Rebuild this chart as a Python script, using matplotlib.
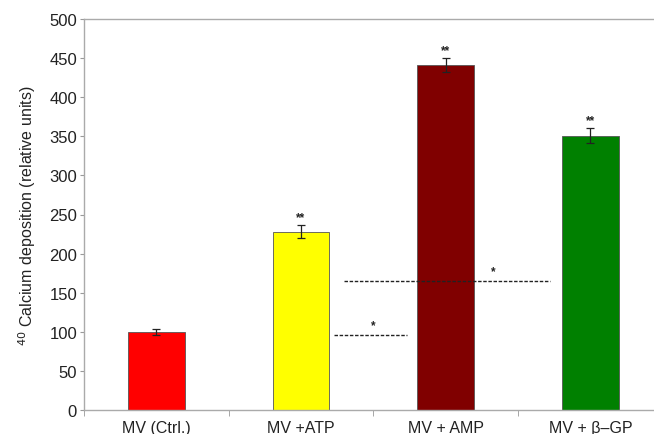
import matplotlib
matplotlib.use("Agg")
import matplotlib.pyplot as plt
import numpy as np

plt.rcParams['font.family'] = ['Liberation Sans', 'DejaVu Sans']

categories = ["MV (Ctrl.)", "MV +ATP", "MV + AMP", "MV + β–GP"]
values = [100, 228, 441, 351]
errors = [4, 8, 9, 9]
colors = ["#ff0000", "#ffff00", "#800000", "#008000"]
marks = ["", "**", "**", "**"]
yticks = [0, 50, 100, 150, 200, 250, 300, 350, 400, 450, 500]

fig = plt.figure(figsize=(6.54, 4.35), dpi=100)
ax = fig.add_axes([84/654, 1 - 411/435, 1 - 84/654, (411 - 20)/435])

x = np.arange(len(categories))
ax.bar(x, values, width=0.39, color=colors, edgecolor="#555555", linewidth=0.6, zorder=2)
ax.errorbar(x, values, yerr=errors, fmt="none", ecolor="#222222", elinewidth=0.9,
            capsize=3, capthick=0.9, zorder=3)
for xi, v, e, m in zip(x, values, errors, marks):
    if m:
        ax.text(xi, v + e + 3, m, ha="center", va="bottom", fontsize=8.5, fontweight="bold", color="#222222")

# significance lines
ax.plot([1.30, 2.72], [165, 165], ls=(0, (2.5, 1.2)), color="#222222", lw=1.0, zorder=4)
ax.text(2.33, 170, "*", ha="center", va="bottom", fontsize=8.5, fontweight="bold", color="#222222")
ax.plot([1.23, 1.73], [96, 96], ls=(0, (2.5, 1.2)), color="#222222", lw=1.0, zorder=4)
ax.text(1.50, 101, "*", ha="center", va="bottom", fontsize=8.5, fontweight="bold", color="#222222")

ax.set_xlim(-0.5, 3.44)
ax.set_ylim(0, 500)
ax.set_yticks(yticks)
ax.set_yticklabels([str(t) for t in yticks], fontsize=12, color="#222222")
ax.set_xticks(x)
ax.set_xticklabels(categories, fontsize=11.5, color="#222222")
ax.tick_params(axis="x", length=0, pad=7)
ax.set_xticks(np.arange(-0.5, 3.0, 1.0), minor=True)
ax.tick_params(axis="x", which="minor", length=4, color="#999999", direction="out")
ax.tick_params(axis="y", length=3, color="#999999", direction="out", pad=2)

for s in ["left", "top", "bottom"]:
    ax.spines[s].set_color("#aaaaaa")
    ax.spines[s].set_linewidth(1.0)
ax.spines["right"].set_visible(False)

ax.set_ylabel("$^{40}$ Calcium deposition (relative units)", fontsize=11.5, color="#222222", labelpad=8)

fig.savefig("out.png", dpi=100)
